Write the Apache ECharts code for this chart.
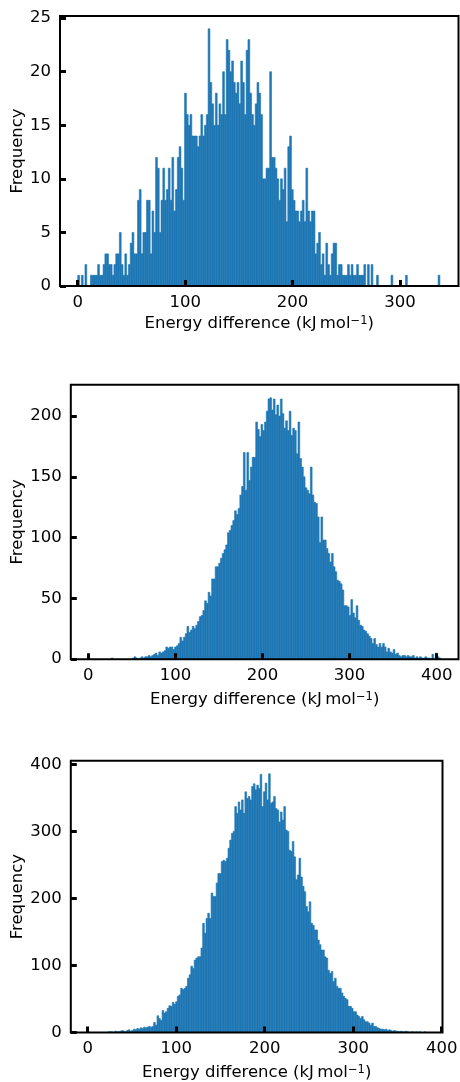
<!DOCTYPE html>
<html><head><meta charset="utf-8">
<script src="https://cdn.jsdelivr.net/npm/echarts@6/dist/echarts.min.js"></script>
<style>html,body{margin:0;padding:0;background:#fff}#c{width:460px;height:1082px}</style>
</head><body><div id="c"></div>
<script>
// ---------------- data ----------------
const binStart1 = 0, binWidth1 = 1.686;
const counts1 = [
1,0,1,0,2,0,0,1,1,1, 1,2,1,1,2,3,3,2,2,1,
2,3,3,5,2,1,3,1,2,4, 5,3,3,8,9,3,5,5,8,8,
3,7,5,12,11,5,8,11,8,9, 11,8,12,7,9,12,13,11,8,18,
16,15,16,14,14,14,13,14,16,14, 15,16,24,19,17,15,18,15,17,16,
20,16,23,22,20,21,19,18,19,17, 21,19,16,22,23,18,16,15,17,19,
18,16,10,10,11,11,20,12,12,11, 10,8,10,9,11,6,13,14,9,8,
7,7,6,7,8,6,11,7,6,7, 7,3,4,5,2,3,1,4,2,1,
3,4,4,1,2,2,1,1,1,2, 1,2,1,1,2,1,1,1,2,0,
2,0,2,0,0,1,0,0,0,0, 0,0,0,1,0,0,0,0,0,0,
0,1,0,0,0,0,0,0,0,0, 0,0,0,0,0,0,0,0,0,1
];
const binStart2 = 0, binWidth2 = 2.023;
const counts2 = [
1,0,0,0,0,0,0,0,0,0, 0,0,0,1,0,0,0,0,0,0,
0,0,0,0,0,1,2,1,0,1, 2,1,2,2,3,2,3,4,5,3,
6,5,6,7,10,9,10,10,8,10, 11,13,18,15,18,21,27,22,24,27,
25,28,31,35,36,40,48,46,55,52, 66,66,76,76,79,83,87,90,94,104,
106,110,114,122,119,124,135,142,170,139, 170,147,158,166,166,195,189,183,193,188,
195,204,214,215,205,214,201,209,200,214, 202,190,196,188,204,184,190,188,169,195,
165,158,150,141,139,136,158,135,129,128, 117,96,117,98,98,91,87,80,87,76,
72,65,64,62,57,44,44,43,36,49, 38,34,44,32,28,27,24,23,21,19,
17,13,17,12,10,13,10,13,10,6, 9,6,5,8,4,5,3,2,3,3,
2,3,2,2,3,1,2,1,2,1, 1,2,1,1,0,4,0,5,2,1
];
const binStart3 = 0, binWidth3 = 1.91;
const counts3 = [
1,0,0,0,0,0,0,0,0,0, 0,0,1,1,1,0,2,1,1,2,
3,2,1,3,4,2,3,5,4,6, 5,7,6,8,7,8,9,8,9,15,
11,25,21,18,33,29,31,36,40,39, 45,42,46,54,56,66,64,66,69,81,
86,99,96,108,111,113,113,126,163,148, 170,178,170,208,203,203,223,237,237,255,
257,255,260,275,287,297,300,337,327,344, 332,347,327,359,349,352,347,367,371,362,
369,364,385,337,359,372,347,386,342,344, 352,334,332,314,329,317,337,302,300,272,
270,285,262,228,235,260,232,218,210,188, 180,195,163,160,153,153,138,131,123,123,
113,111,93,88,91,76,81,69,66,66, 59,54,51,49,39,39,36,31,31,26,
24,21,24,19,16,16,14,11,14,9, 9,7,6,5,5,4,5,3,4,3,
2,3,2,2,1,2,1,1,2,1, 0,1,1,0,1,0,1,0,0,1
];
const xTicks1 = [0, 100, 200, 300];
const xTicks2 = [0, 100, 200, 300, 400];
const xTicks3 = [0, 100, 200, 300, 400];
const yTicks1 = [0, 5, 10, 15, 20, 25];
const yTicks2 = [0, 50, 100, 150, 200];
const yTicks3 = [0, 100, 200, 300, 400];
const xTitle = 'Energy difference (kJ\u2009mol{sup|\u22121})';
const yTitle = 'Frequency';

// ---------------- layout / style ----------------
const FONT = 'DejaVu Sans';
const FS = 16.5;
const BLUE = '#1f77b4';
const panels = [
  {counts: counts1, start: binStart1, width: binWidth1, xTicks: xTicks1, yTicks: yTicks1,
   xMin: -16.5, xMax: 354.5, yMax: 25.2, grid: {left: 60, top: 16, width: 398.5, height: 270}, yGap: 34, xGap: 29},
  {counts: counts2, start: binStart2, width: binWidth2, xTicks: xTicks2, yTicks: yTicks2,
   xMin: -20.1, xMax: 425, yMax: 225.75, grid: {left: 70.8, top: 384.7, width: 387.7, height: 274.5}, yGap: 45, xGap: 32},
  {counts: counts3, start: binStart3, width: binWidth3, xTicks: xTicks3, yTicks: yTicks3,
   xMin: -19.1, xMax: 400.9, yMax: 405.3, grid: {left: 70.8, top: 760.8, width: 371.7, height: 271.7}, yGap: 45, xGap: 32}
];

function histData(counts, start, width) {
  return counts.map((c, i) => [start + i * width, start + (i + 1) * width, c]);
}
function renderHist(params, api) {
  const c = api.value(2);
  if (!c) return null;
  const a = api.coord([api.value(0), 0]);
  const b = api.coord([api.value(1), c]);
  return {type: 'rect', shape: {x: a[0], y: b[1], width: b[0] - a[0], height: a[1] - b[1]},
          style: {fill: BLUE, stroke: BLUE, lineWidth: 0.6}};
}
const textStyle = {fontFamily: FONT, fontSize: FS, color: '#000'};
const option = {animation: false, backgroundColor: '#fff', grid: [], xAxis: [], yAxis: [], series: []};
panels.forEach((p, i) => {
  option.grid.push(Object.assign({show: true, borderColor: '#000', borderWidth: 2,
    backgroundColor: 'rgba(0,0,0,0)', z: 10, containLabel: false, outerBoundsMode: 'none'}, p.grid));
  option.xAxis.push({
    gridIndex: i, type: 'value', min: p.xMin, max: p.xMax, z: 10, position: 'bottom',
    axisLine: {show: false, onZero: false}, splitLine: {show: false},
    axisTick: {show: true, inside: true, length: 6, customValues: p.xTicks, lineStyle: {color: '#000', width: 3}},
    axisLabel: Object.assign({customValues: p.xTicks, margin: 8}, textStyle),
    name: xTitle, nameLocation: 'middle', nameGap: p.xGap,
    nameTextStyle: Object.assign({rich: {sup: {fontFamily: FONT, fontSize: 11.5, color: '#000', verticalAlign: 'top'}}}, textStyle)
  });
  option.yAxis.push({
    gridIndex: i, type: 'value', min: 0, max: p.yMax, z: 10, position: 'left',
    axisLine: {show: false, onZero: false}, splitLine: {show: false},
    axisTick: {show: true, inside: true, length: 6, customValues: p.yTicks, lineStyle: {color: '#000', width: 3}},
    axisLabel: Object.assign({customValues: p.yTicks, margin: 9}, textStyle),
    name: yTitle, nameLocation: 'middle', nameGap: p.yGap, nameMoveOverlap: false, nameTextStyle: textStyle
  });
  option.series.push({
    type: 'custom', xAxisIndex: i, yAxisIndex: i, clip: true,
    renderItem: renderHist, encode: {x: [0, 1], y: 2},
    data: histData(p.counts, p.start, p.width)
  });
});
const chart = echarts.init(document.getElementById('c'), null, {renderer: 'canvas'});
chart.setOption(option);
</script></body></html>
